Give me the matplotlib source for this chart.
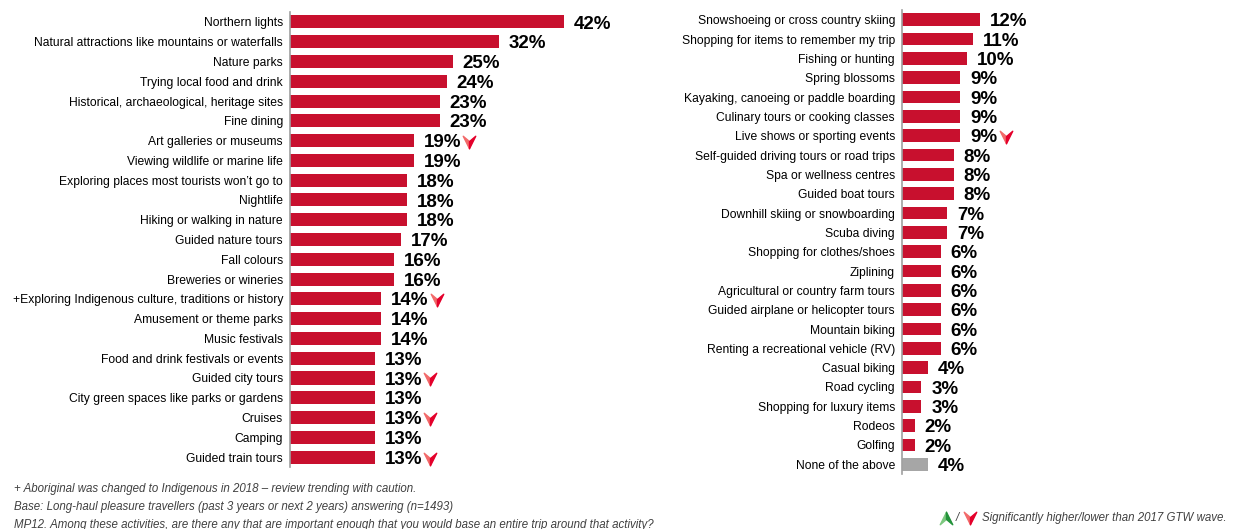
import matplotlib.pyplot as plt
from matplotlib.path import Path
from matplotlib.transforms import offset_copy

plt.rcParams['font.family'] = ['Liberation Sans', 'DejaVu Sans']

left_labels = [
    'Northern lights', 'Natural attractions like mountains or waterfalls', 'Nature parks',
    'Trying local food and drink', 'Historical, archaeological, heritage sites', 'Fine dining',
    'Art galleries or museums', 'Viewing wildlife or marine life',
    'Exploring places most tourists won\u2019t go to', 'Nightlife', 'Hiking or walking in nature',
    'Guided nature tours', 'Fall colours', 'Breweries or wineries',
    '+Exploring Indigenous culture, traditions or history', 'Amusement or theme parks',
    'Music festivals', 'Food and drink festivals or events', 'Guided city tours',
    'City green spaces like parks or gardens', 'Cruises', 'Camping', 'Guided train tours',
]
left_values = [42, 32, 25, 24, 23, 23, 19, 19, 18, 18, 18, 17, 16, 16, 14, 14, 14, 13, 13, 13, 13, 13, 13]
left_down = ['Art galleries or museums', '+Exploring Indigenous culture, traditions or history',
             'Guided city tours', 'Cruises', 'Guided train tours']

right_labels = [
    'Snowshoeing or cross country skiing', 'Shopping for items to remember my trip',
    'Fishing or hunting', 'Spring blossoms', 'Kayaking, canoeing or paddle boarding',
    'Culinary tours or cooking classes', 'Live shows or sporting events',
    'Self-guided driving tours or road trips', 'Spa or wellness centres', 'Guided boat tours',
    'Downhill skiing or snowboarding', 'Scuba diving', 'Shopping for clothes/shoes', 'Ziplining',
    'Agricultural or country farm tours', 'Guided airplane or helicopter tours', 'Mountain biking',
    'Renting a recreational vehicle (RV)', 'Casual biking', 'Road cycling',
    'Shopping for luxury items', 'Rodeos', 'Golfing', 'None of the above',
]
right_values = [12, 11, 10, 9, 9, 9, 9, 8, 8, 8, 7, 7, 6, 6, 6, 6, 6, 6, 4, 3, 3, 2, 2, 4]
right_down = ['Live shows or sporting events']

RED = '#C8102E'
GREY = '#A6A6A6'
VAL_SIZE = 13.5

# arrowhead halves (pointing down); left half lighter like the original icon
down_left = Path([(0, -1), (0, 0.15), (-1, 1), (0, -1)],
                 [Path.MOVETO, Path.LINETO, Path.LINETO, Path.CLOSEPOLY])
down_right = Path([(0, -1), (1, 1), (0, 0.15), (0, -1)],
                  [Path.MOVETO, Path.LINETO, Path.LINETO, Path.CLOSEPOLY])
up_left = Path([(0, 1), (0, -0.15), (-1, -1), (0, 1)],
               [Path.MOVETO, Path.LINETO, Path.LINETO, Path.CLOSEPOLY])
up_right = Path([(0, 1), (1, -1), (0, -0.15), (0, 1)],
                [Path.MOVETO, Path.LINETO, Path.LINETO, Path.CLOSEPOLY])


def draw_arrow(ax_or_fig, x, y, transform, up=False):
    if up:
        halves = [(up_left, '#7CC87F'), (up_right, '#23923A')]
    else:
        halves = [(down_left, '#F26A6A'), (down_right, '#E4002B')]
    for m, c in halves:
        line = plt.Line2D([x], [y], marker=m, markersize=9, color=c, linestyle='none',
                          transform=transform, clip_on=False)
        if hasattr(ax_or_fig, 'add_line'):
            ax_or_fig.add_line(line)
        else:
            ax_or_fig.lines.append(line)


def draw_panel(fig, rect, labels, values, down, grey_last=False):
    ax = fig.add_axes(rect)
    n = len(labels)
    pos = list(range(n))
    colors = [RED] * n
    if grey_last:
        colors[-1] = GREY
    ax.barh(pos, values, height=0.66, color=colors)
    ax.set_ylim(n - 0.5, -0.5)
    ax.set_xlim(0, 50)
    ax.set_yticks(pos)
    ax.set_yticklabels(labels, fontsize=8.7, color='#000000')
    ax.tick_params(axis='y', length=0, pad=5)
    ax.set_xticks([])
    for s in ['top', 'right', 'bottom']:
        ax.spines[s].set_visible(False)
    ax.spines['left'].set_color('#A0A0A0')
    ax.spines['left'].set_linewidth(1.2)
    txt_tr = offset_copy(ax.transData, fig=fig, x=7, y=-1.5, units='points')
    for lab, v, p in zip(labels, values, pos):
        s = f'{v}%'
        ax.text(v, p, s, transform=txt_tr, fontsize=VAL_SIZE, fontweight='bold',
                va='center', ha='left')
        if lab in down:
            # approximate text width (Arial bold metrics) to place the arrow right after it
            w = ((len(s) - 1) * 0.556 + 0.889) * VAL_SIZE
            arr_tr = offset_copy(ax.transData, fig=fig, x=7 + w + 6, y=-1, units='points')
            draw_arrow(ax, v, p, arr_tr)
    return ax


fig = plt.figure(figsize=(12.41, 5.29), dpi=100)
draw_panel(fig, [0.2337, 0.1172, 0.2627, 0.860], left_labels, left_values, left_down)
draw_panel(fig, [0.7268, 0.104, 0.2620, 0.877], right_labels, right_values, right_down,
           grey_last=True)

notes = [
    '+ Aboriginal was changed to Indigenous in 2018 \u2013 review trending with caution.',
    'Base: Long-haul pleasure travellers (past 3 years or next 2 years) answering (n=1493)',
    'MP12. Among these activities, are there any that are important enough that you would base an entire trip around that activity?',
]
for i, t in enumerate(notes):
    fig.text(0.011, 1 - (489 + i * 18) / 529, t, fontsize=8.3, style='italic',
             color='#404040', va='center')

# legend of significance arrows
ly = 1 - 518 / 529
draw_arrow(fig, 946 / 1241, ly, fig.transFigure, up=True)
fig.text(956 / 1241, ly, '/', fontsize=8.3, style='italic', color='#404040', va='center')
draw_arrow(fig, 970 / 1241, ly, fig.transFigure)
fig.text(982 / 1241, ly, 'Significantly higher/lower than 2017 GTW wave.', fontsize=8.3,
         style='italic', color='#404040', va='center')

fig.savefig('out.png', dpi=100)
